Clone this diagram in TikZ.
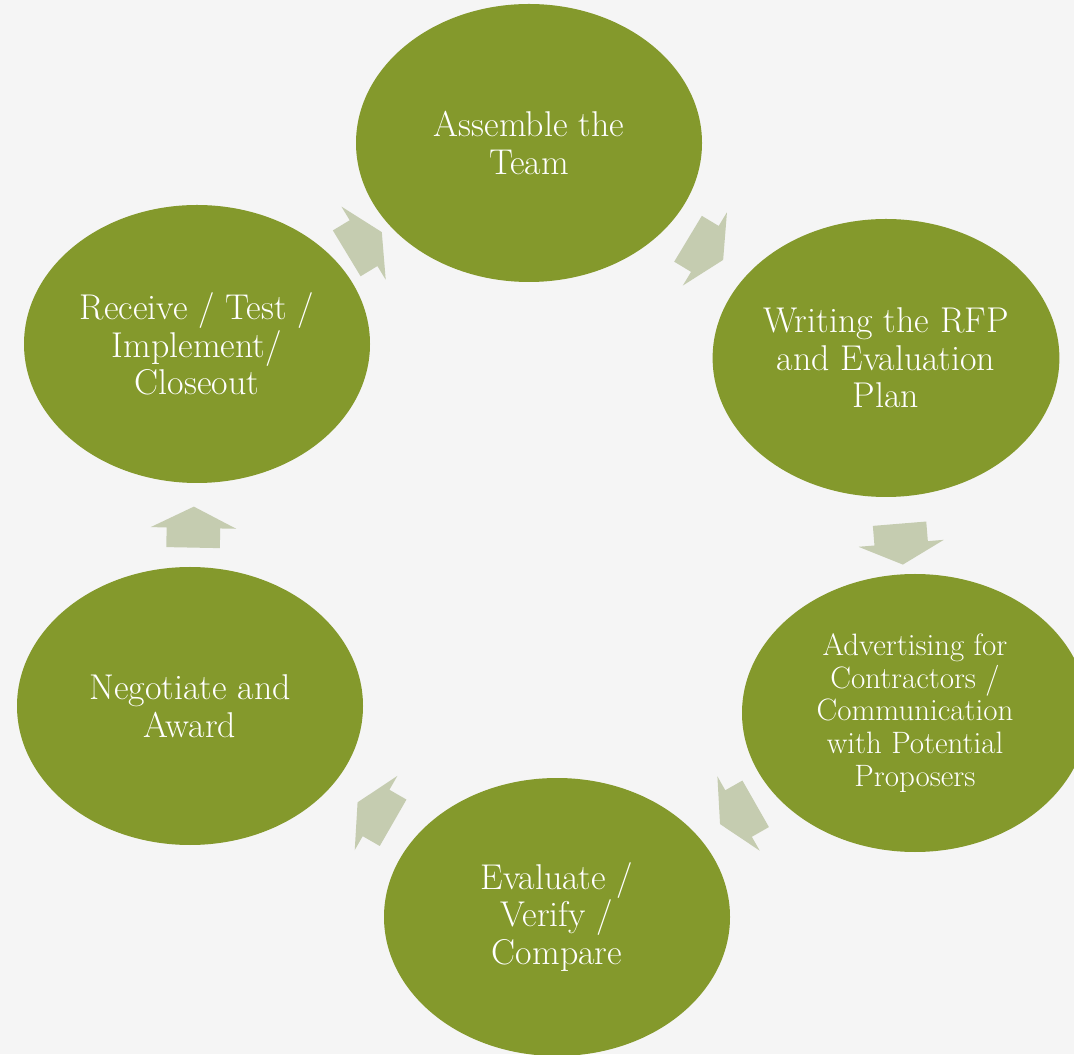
\documentclass[tikz,border=0pt]{standalone}
\usepackage{fontspec}
\usetikzlibrary{shapes.geometric,shapes.arrows}
\definecolor{stagegreen}{RGB}{132,153,44}
\definecolor{arrowgrey}{RGB}{197,204,176}
\definecolor{paper}{RGB}{245,245,245}
\begin{document}
\begin{tikzpicture}[
    stage/.style={ellipse, fill=stagegreen, text=white, minimum width=8.65cm, minimum height=6.95cm, inner sep=0pt, align=center, font=\fontsize{25.5}{26.8}\selectfont},
    cyclearrow/.style={single arrow, fill=arrowgrey, inner xsep=0pt, inner ysep=0.6625cm, minimum height=1.025cm, single arrow head extend=0.4cm, single arrow tip angle=127, sloped, allow upside down, xshift=-0.22cm}
]
    % Page background
    \fill[paper] (0,0) rectangle (26.85,26.35);
    \useasboundingbox (0,0) rectangle (26.85,26.35);
    \clip (0,0) rectangle (26.85,26.35);

    % Stages of the cycle
    \node[stage] (team) at (13.225,22.775) {Assemble the\\Team};
    \node[stage] (rfp) at (22.15,17.4) {Writing the RFP\\and Evaluation\\Plan};
    \node[stage, font=\fontsize{22}{23.2}\selectfont] (advert) at (22.875,8.525) {Advertising for\\Contractors /\\Communication\\with Potential\\Proposers};
    \node[stage] (evaluate) at (13.925,3.425) {Evaluate /\\Verify /\\Compare};
    \node[stage] (award) at (4.75,8.7) {Negotiate and\\Award};
    \node[stage] (receive) at (4.925,17.75) {Receive / Test /\\Implement/\\Closeout};

    % Arrows between the stages
    \path (team) -- node[cyclearrow] (a1) {} (rfp);
    \path (rfp) -- node[cyclearrow, xshift=0.27cm] (a2) {} (advert);
    \path (advert) -- node[cyclearrow] (a3) {} (evaluate);
    \path (evaluate) -- node[cyclearrow] (a4) {} (award);
    \path (award) -- node[cyclearrow] (a5) {} (receive);
    \path (receive) -- node[cyclearrow, xshift=0.09cm] (a6) {} (team);
\end{tikzpicture}
\end{document}
